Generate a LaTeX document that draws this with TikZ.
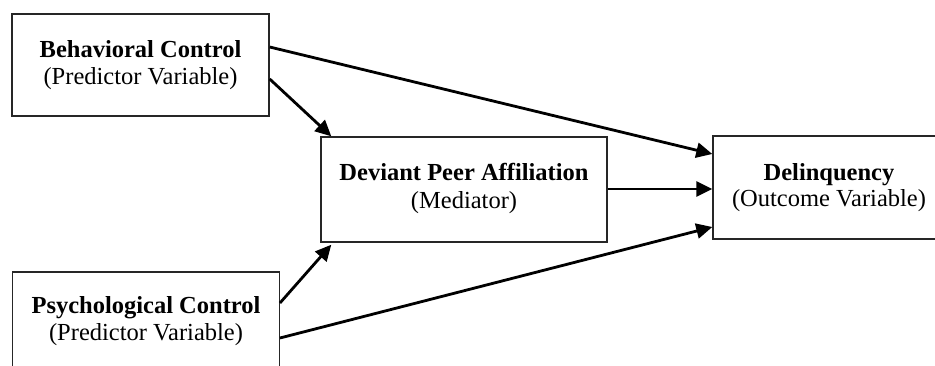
\documentclass[tikz,border=0pt]{standalone}
\usepackage{fontspec}
\setmainfont{Liberation Serif}
\usetikzlibrary{arrows.meta}
\begin{document}
\begin{tikzpicture}[x=1pt,y=-1pt,
  varbox/.style={draw=black!85,line width=1.4pt,fill=white,align=center,inner sep=0pt,font=\fontsize{24.5}{28}\selectfont},
  conn/.style={line width=2.8pt,-{Triangle[length=16pt,width=15pt]},shorten >=0pt}]
\useasboundingbox (0,0) rectangle (935,365);
\clip (0,0) rectangle (935,365);
\node[varbox,minimum width=257pt,minimum height=102pt] (B) at (140.5,65)
  {\textbf{Behavioral Control}\\[-1pt](Predictor Variable)};
\node[varbox,minimum width=266.5pt,minimum height=98pt] (P) at (146,321)
  {\textbf{Psychological Control}\\[-1pt](Predictor Variable)};
\node[varbox,minimum width=286pt,minimum height=105pt] (D) at (464,189.5)
  {\textbf{Deviant Peer Affiliation}\\(Mediator)\\[-21pt]};
\node[varbox,minimum width=232pt,minimum height=103pt] (L) at (829,187.5)
  {\textbf{Delinquency}\\[-2pt](Outcome Variable)\\[-23pt]};
\draw[conn] ([yshift=18pt]B.east) -- ([yshift=33.5pt]L.west);
\draw[conn] ([yshift=-14pt]B.east) -- ([xshift=11pt]D.north west);
\draw[conn] ([yshift=18pt]P.east) -- ([xshift=11pt,yshift=-2pt]D.south west);
\draw[conn] ([yshift=-17pt]P.east) -- ([yshift=-39.5pt]L.west);
\draw[conn] ([yshift=0.5pt]D.east) -- ([yshift=0.5pt]D.east -| L.west);
\end{tikzpicture}
\end{document}
